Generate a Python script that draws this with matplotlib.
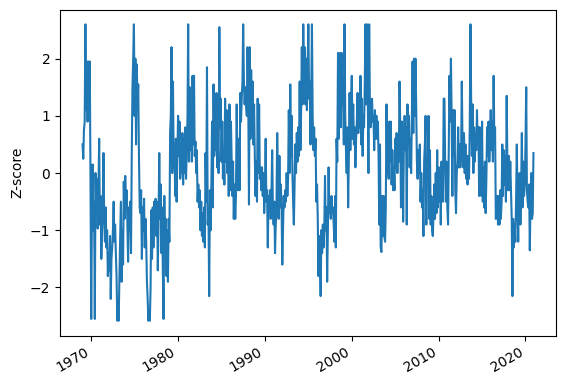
import matplotlib
matplotlib.use("Agg")
import matplotlib.pyplot as plt
import pandas as pd

start_month = "1969-01-01"

# Monthly z-score values, one row per year (1969 .. 2020)
zscore_rows = [
    [0.5, 0.25, 0.75, 0.9, 2.6, 1.1, 1.95, 0.9, 1.95, 1.5, 1.95, -0.1],          # 1969
    [-2.55, -0.6, 0.15, -1.0, -0.5, -2.55, 0.0, -0.7, -0.1, -0.97, -0.3, 0.6],   # 1970
    [-0.9, -0.4, -1.5, -1.0, -0.6, 0.35, -0.8, -1.2, -0.6, -1.3, -1.0, -1.8],    # 1971
    [-1.4, -1.7, -1.1, -2.2, -1.5, -1.3, -1.0, -0.5, -1.2, -0.9, -1.4, -1.8],    # 1972
    [-2.58, -2.3, -2.58, -1.8, -1.2, -0.5, -1.9, -1.0, -1.6, -0.15, -0.8, -0.05],# 1973
    [-0.5, -0.3, -0.9, -1.55, -0.6, -1.0, -0.5, -1.4, 0.3, 1.5, 2.0, 2.6],       # 1974
    [1.0, 2.0, 0.5, 1.9, 1.2, 1.55, 0.3, -0.6, -0.7, -0.3, -1.5, -0.6],          # 1975
    [-1.0, -0.45, -1.3, -0.8, -1.2, -1.9, -2.2, -2.58, -2.4, -2.58, -2.0, -0.65],# 1976
    [-1.5, -0.6, -1.3, -0.5, -1.0, -0.45, -1.1, -0.5, -1.7, -0.9, 0.35, -0.8],   # 1977
    [-0.2, -1.4, -0.6, -1.7, -2.55, -0.4, -1.2, -0.8, -1.8, -1.0, -1.9, -0.8],   # 1978
    [-1.2, 0.7, 1.0, 2.2, 0.0, 1.6, 0.1, 0.5, -0.4, 0.6, -0.5, 0.2],             # 1979
    [1.0, 0.3, 0.9, -0.1, 0.5, 0.0, 0.7, -0.2, 0.6, 0.0, 0.8, -0.1],             # 1980
    [0.4, 1.0, 2.6, 0.2, 1.5, 0.4, 1.2, 0.2, 1.7, 0.5, 1.7, 0.3],                # 1981
    [0.55, 0.0, 0.4, -0.5, -0.2, -0.6, -0.3, -1.0, -0.5, -1.1, -0.7, -1.2],      # 1982
    [-0.6, -1.3, 0.35, -0.5, 1.85, -0.9, -0.6, -2.15, -0.3, -1.0, -0.2, 0.9],    # 1983
    [-0.6, 1.55, 0.3, 1.3, 0.4, 1.4, 0.1, 0.5, 0.0, 2.55, 0.8, 1.3],             # 1984
    [0.2, 0.9, -0.1, 0.4, -0.2, 1.3, 0.2, 1.1, 0.0, 0.8, -0.4, 1.2],             # 1985
    [-0.3, 0.9, 0.3, -0.4, 0.2, -0.8, -0.2, -0.8, -0.4, 1.2, 0.1, -0.3],         # 1986
    [0.6, -0.3, 1.4, 0.9, 1.3, 1.6, 2.6, 1.6, 1.2, 1.5, 1.2, 1.0],               # 1987
    [2.2, 1.2, -0.55, 2.2, 0.6, 1.8, 0.7, 1.6, 0.5, 1.2, 0.3, -0.4],             # 1988
    [0.2, -0.5, 1.3, 0.0, 1.2, -0.1, 0.1, -0.3, 0.1, -0.4, 0.0, -0.7],           # 1989
    [-0.3, 0.6, -0.5, -0.3, -1.3, -0.4, -0.6, -0.3, -0.8, -0.4, 0.4, -0.6],      # 1990
    [-0.9, -0.5, -1.4, -0.9, -0.6, 0.7, -0.2, -0.8, 0.3, -0.6, -0.2, -0.6],      # 1991
    [-1.6, -1.0, -0.4, -0.6, -0.3, -0.5, 0.0, -0.4, -0.1, 1.1, 0.0, 1.55],       # 1992
    [0.3, 1.0, 0.0, -0.5, -0.9, -0.2, 0.5, 0.0, 0.7, 0.2, 0.8, 0.3],             # 1993
    [1.6, 0.4, 1.0, 2.2, 1.2, 2.6, 1.5, 2.2, 1.2, 2.0, 1.1, 1.8],                # 1994
    [2.6, 1.3, 1.6, 0.5, 1.4, 2.6, 1.0, 0.4, 0.8, 0.3, 0.6, -0.5],               # 1995
    [-0.2, -0.8, -1.8, -1.1, -1.5, -2.15, -1.0, -1.4, -0.9, -1.3, -1.0, -0.05],  # 1996
    [-1.0, -0.6, -1.9, -1.0, 0.1, -0.7, -0.5, -0.8, -0.4, -0.7, -0.6, -0.9],     # 1997
    [-1.2, -0.4, -1.3, 0.6, 0.2, 2.1, 0.6, 1.5, 2.1, 0.8, 2.1, 1.2],             # 1998
    [1.5, 0.5, 2.6, 1.0, 0.4, 0.0, 0.8, -0.6, 0.3, 1.4, 0.4, 1.2],               # 1999
    [1.7, 0.6, 1.2, 0.5, 0.8, 0.1, 0.6, 0.9, 1.4, 0.7, 1.2, 0.8],                # 2000
    [1.7, 0.5, 1.3, 0.3, 1.0, 0.8, 1.6, 2.6, 1.2, 2.6, 1.6, 0.0],                # 2001
    [2.6, 1.2, 0.8, 1.0, 1.3, 0.9, 1.0, 0.4, 1.1, 0.6, 1.0, 0.6],                # 2002
    [0.9, 0.3, -0.9, 0.5, -1.3, -1.38, -0.4, -1.1, -0.4, -1.1, -1.2, -0.6],      # 2003
    [1.2, 0.0, 0.2, -0.1, 0.9, 0.2, 0.9, -0.2, 0.4, -0.3, 0.1, -0.3],            # 2004
    [0.6, 0.1, 0.7, 0.0, 0.5, 0.2, 1.6, 0.8, -0.6, 0.9, 0.5, -0.85],             # 2005
    [0.6, 1.0, 0.4, 0.8, -0.9, 1.2, 0.6, 1.0, 0.1, 0.6, 0.0, 1.0],               # 2006
    [1.95, 0.7, 2.0, 1.0, 2.0, 1.2, 0.2, -0.1, 0.4, 0.0, 0.5, -0.5],             # 2007
    [0.0, -0.6, -0.3, -1.1, 0.2, 0.5, 1.0, -0.9, 0.3, 0.0, 1.0, -0.8],           # 2008
    [0.4, -0.9, -0.4, -1.0, -1.1, -0.7, -0.2, -0.8, 0.0, -0.7, 0.4, -0.6],       # 2009
    [0.1, -0.5, 0.0, -0.9, 0.2, -0.3, -0.5, 1.3, 1.3, 0.2, -0.5, 0.2],           # 2010
    [-0.6, -0.9, 0.4, 1.7, 0.9, 2.0, 1.0, -0.4, 1.1, 0.3, 1.1, -0.3],            # 2011
    [-0.7, 0.0, 0.2, 0.8, 0.1, 0.5, 0.1, 0.3, 1.6, 0.5, 0.1, 0.7],               # 2012
    [0.0, 0.5, -0.1, 0.3, -0.2, 0.3, -0.1, 0.8, 2.6, 1.2, 0.3, 1.2],             # 2013
    [0.0, 0.8, 0.2, 0.7, 0.4, 1.1, 0.5, 0.8, -0.4, 0.8, 0.5, -0.4],              # 2014
    [0.9, -0.5, 0.1, -0.6, 0.2, -0.7, -0.1, 0.8, 0.3, 0.9, 0.2, 0.6],            # 2015
    [1.1, 0.4, 0.9, 0.2, 1.7, 0.5, 0.8, -0.8, -0.7, -0.4, -0.9, -0.4],           # 2016
    [-0.9, -0.3, -0.8, -0.5, 0.5, -0.4, 0.4, -0.2, 0.3, -0.5, 1.35, 0.1],        # 2017
    [-0.3, 0.3, -0.3, 0.2, -0.3, -0.8, -2.15, -0.8, -1.3, -0.9, -1.2, -0.5],     # 2018
    [0.5, -0.5, -1.2, -0.2, 0.0, -0.9, -0.3, 0.7, -0.6, 0.2, -0.4, -0.2],        # 2019
    [0.5, 1.5, -0.3, -0.5, -0.6, -0.2, -1.35, -0.4, 0.0, -0.8, -0.7, 0.35],      # 2020
]

y_label = "Z-score"

values = [v for row in zscore_rows for v in row]
dates = pd.date_range(start_month, periods=len(values), freq="MS")

fig = plt.figure(figsize=(5.65, 3.85), dpi=100)
ax = fig.add_subplot(111)
ax.plot(dates, values, color="#1f77b4", linewidth=1.5)
ax.set_ylabel(y_label)
fig.autofmt_xdate()
ax.set_position([60 / 565, 49.5 / 385, 496 / 565, 326 / 385])
fig.savefig("out.png", dpi=100)
